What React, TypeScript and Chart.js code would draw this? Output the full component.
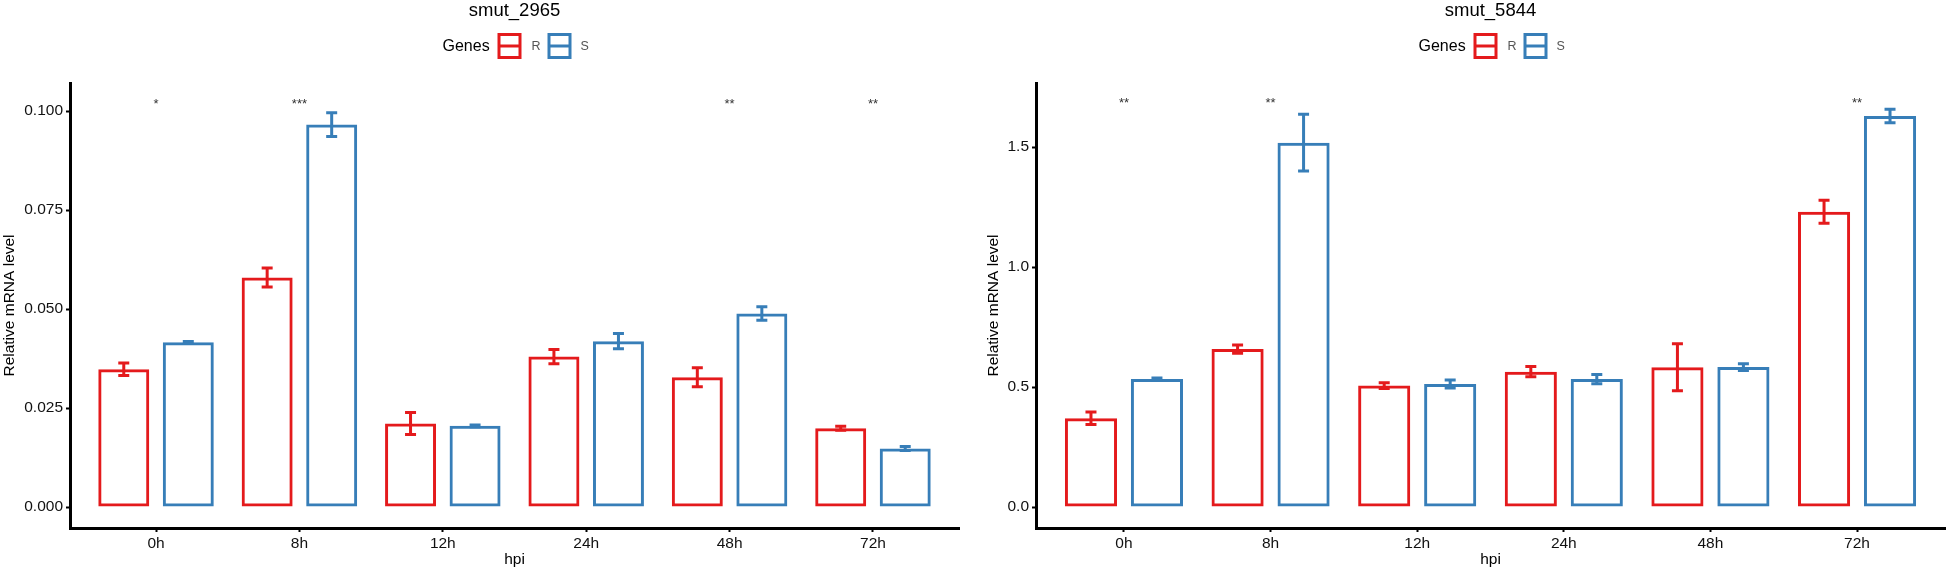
import React, { useEffect, useRef } from 'react';
import { Chart, registerables } from 'chart.js';

Chart.register(...registerables);

// ---------- data ----------
const categories = ['0h', '8h', '12h', '24h', '48h', '72h'];
const geneLabels = ['R', 'S'];
const colorR = '#E41A1C';
const colorS = '#377EB8';

// smut_2965
const leftTitle = 'smut_2965';
const leftR = [0.0348, 0.058, 0.0211, 0.038, 0.0328, 0.0199];
const leftRErr = [0.0016, 0.0024, 0.0028, 0.0018, 0.0024, 0.0005];
const leftS = [0.0416, 0.0966, 0.0205, 0.0419, 0.0489, 0.0148];
const leftSErr = [0.0002, 0.003, 0.0002, 0.0019, 0.0017, 0.0005];
const leftStars = ['*', '***', '', '', '**', '**'];
const leftStarY = 0.1028;
const leftTicks = [0, 0.025, 0.05, 0.075, 0.1];
const leftYMin = -0.0053;
const leftYMax = 0.1071;

// smut_5844
const rightTitle = 'smut_5844';
const rightR = [0.37, 0.658, 0.506, 0.564, 0.582, 1.23];
const rightRErr = [0.026, 0.017, 0.012, 0.021, 0.098, 0.048];
const rightS = [0.533, 1.518, 0.5125, 0.533, 0.583, 1.629];
const rightSErr = [0.004, 0.118, 0.017, 0.019, 0.014, 0.028];
const rightStars = ['**', '**', '', '', '', '**'];
const rightStarY = 1.696;
const rightTicks = [0, 0.5, 1.0, 1.5];
const rightYMin = -0.0875;
const rightYMax = 1.7667;

const FONT = '"Liberation Sans", Arial, Helvetica, sans-serif';

// ---------- plugin: error bars, stars, title, legend ----------
const decorPlugin = {
  id: 'decor',
  afterDatasetsDraw(chart: any) {
    const ctx = chart.ctx;
    const ys = chart.scales.y;
    const xs = chart.scales.x;
    chart.data.datasets.forEach((ds: any, di: number) => {
      const meta = chart.getDatasetMeta(di);
      meta.data.forEach((el: any, i: number) => {
        const v = ds.data[i].y;
        const e = ds.errors[i];
        const yTop = ys.getPixelForValue(v + e);
        const yBot = ys.getPixelForValue(v - e);
        ctx.save();
        ctx.strokeStyle = ds.borderColor;
        ctx.lineWidth = 3;
        ctx.beginPath();
        ctx.moveTo(el.x, yTop);
        ctx.lineTo(el.x, yBot);
        ctx.moveTo(el.x - 5.5, yTop);
        ctx.lineTo(el.x + 5.5, yTop);
        ctx.moveTo(el.x - 5.5, yBot);
        ctx.lineTo(el.x + 5.5, yBot);
        ctx.stroke();
        ctx.restore();
      });
    });
    const opts = chart.options.plugins.decor;
    ctx.save();
    ctx.fillStyle = '#333';
    ctx.font = `13px ${FONT}`;
    ctx.textAlign = 'center';
    ctx.textBaseline = 'alphabetic';
    opts.stars.forEach((s: string, i: number) => {
      if (!s) return;
      const x = xs.getPixelForValue(i);
      const y = ys.getPixelForValue(opts.starY);
      ctx.fillText(s, x, y + 7.5);
    });
    ctx.restore();
  },
  afterDraw(chart: any) {
    const ctx = chart.ctx;
    const opts = chart.options.plugins.decor;
    const ca = chart.chartArea;
    const c = (ca.left + ca.right) / 2;
    ctx.save();
    ctx.fillStyle = '#000';
    ctx.font = `18.5px ${FONT}`;
    ctx.textAlign = 'center';
    ctx.textBaseline = 'middle';
    ctx.fillText(opts.title, c, 11);
    // legend
    ctx.font = `16px ${FONT}`;
    ctx.textAlign = 'left';
    ctx.fillText('Genes', c - 72, 47);
    const keys = [
      { x: c - 17, color: colorR, label: geneLabels[0], lx: c + 17 },
      { x: c + 33, color: colorS, label: geneLabels[1], lx: c + 66 },
    ];
    keys.forEach((k) => {
      ctx.strokeStyle = k.color;
      ctx.lineWidth = 3;
      ctx.strokeRect(k.x + 1.5, 34.5, 21, 23);
      ctx.beginPath();
      ctx.moveTo(k.x + 1.5, 46);
      ctx.lineTo(k.x + 22.5, 46);
      ctx.stroke();
      ctx.fillStyle = '#555';
      ctx.font = `12.5px ${FONT}`;
      ctx.fillText(k.label, k.lx, 47);
    });
    ctx.restore();
  },
};

type Panel = {
  title: string;
  r: number[];
  rErr: number[];
  s: number[];
  sErr: number[];
  stars: string[];
  starY: number;
  ticks: number[];
  yMin: number;
  yMax: number;
  decimals: number;
  yWidth: number;
  rightPad: number;
  titlePad: number;
};

function buildConfig(p: Panel): any {
  return {
    type: 'bar',
    data: {
      datasets: [
        {
          label: geneLabels[0],
          data: categories.map((_, i) => ({ x: i, y: p.r[i] })),
          errors: p.rErr,
          borderColor: colorR,
          backgroundColor: 'rgba(255,255,255,0)',
          borderWidth: 3,
          borderSkipped: false,
          categoryPercentage: 0.9,
          barPercentage: 0.79,
        },
        {
          label: geneLabels[1],
          data: categories.map((_, i) => ({ x: i, y: p.s[i] })),
          errors: p.sErr,
          borderColor: colorS,
          backgroundColor: 'rgba(255,255,255,0)',
          borderWidth: 3,
          borderSkipped: false,
          categoryPercentage: 0.9,
          barPercentage: 0.79,
        },
      ],
    },
    options: {
      responsive: false,
      maintainAspectRatio: false,
      animation: false,
      layout: { padding: { top: 83, left: 0, right: p.rightPad, bottom: 0 } },
      plugins: {
        legend: { display: false },
        title: { display: false },
        tooltip: { enabled: false },
        decor: { title: p.title, stars: p.stars, starY: p.starY },
      },
      scales: {
        x: {
          type: 'linear',
          offset: false,
          min: -0.6,
          max: 5.6,
          afterBuildTicks: (axis: any) => {
            axis.ticks = categories.map((_, i) => ({ value: i }));
          },
          afterFit: (scale: any) => {
            scale.height = 43;
          },
          grid: {
            display: true,
            offset: false,
            drawOnChartArea: false,
            drawTicks: true,
            tickLength: 4,
            tickWidth: 2,
            tickColor: '#000',
          },
          border: { display: true, width: 3, color: '#000' },
          ticks: {
            color: '#111',
            padding: 2,
            maxRotation: 0,
            autoSkip: false,
            font: { family: FONT, size: 15.5 },
            callback: (v: number) => categories[v],
          },
          title: {
            display: true,
            text: 'hpi',
            color: '#000',
            font: { family: FONT, size: 15.5 },
            padding: { top: 0, bottom: 2 },
          },
        },
        y: {
          type: 'linear',
          min: p.yMin,
          max: p.yMax,
          afterBuildTicks: (axis: any) => {
            axis.ticks = p.ticks.map((v) => ({ value: v }));
          },
          afterFit: (scale: any) => {
            scale.width = p.yWidth;
          },
          grid: {
            display: true,
            drawOnChartArea: false,
            drawTicks: true,
            tickLength: 4,
            tickWidth: 2,
            tickColor: '#000',
          },
          border: { display: true, width: 3, color: '#000' },
          ticks: {
            color: '#111',
            padding: 3,
            font: { family: FONT, size: 15.5 },
            callback: (v: number) => Number(v).toFixed(p.decimals),
          },
          title: {
            display: true,
            text: 'Relative mRNA level',
            color: '#000',
            font: { family: FONT, size: 15.5 },
            padding: { top: p.titlePad, bottom: 0 },
          },
        },
      },
    },
    plugins: [decorPlugin],
  };
}

const leftPanel: Panel = {
  title: leftTitle,
  r: leftR,
  rErr: leftRErr,
  s: leftS,
  sErr: leftSErr,
  stars: leftStars,
  starY: leftStarY,
  ticks: leftTicks,
  yMin: leftYMin,
  yMax: leftYMax,
  decimals: 3,
  yWidth: 70,
  rightPad: 14,
  titlePad: 0,
};

const rightPanel: Panel = {
  title: rightTitle,
  r: rightR,
  rErr: rightRErr,
  s: rightS,
  sErr: rightSErr,
  stars: rightStars,
  starY: rightStarY,
  ticks: rightTicks,
  yMin: rightYMin,
  yMax: rightYMax,
  decimals: 1,
  yWidth: 56,
  rightPad: 1,
  titlePad: 4.7,
};

function ChartPanel({ panel, left, width }: { panel: Panel; left: number; width: number }) {
  const ref = useRef<HTMLCanvasElement>(null);
  useEffect(() => {
    if (!ref.current) return;
    const chart = new Chart(ref.current, buildConfig(panel));
    return () => chart.destroy();
  }, [panel]);
  return (
    <div style={{ position: 'absolute', left, top: 0, width, height: 571 }}>
      <canvas ref={ref} width={width} height={571} style={{ display: 'block', width, height: 571 }} />
    </div>
  );
}

export default function App() {
  return (
    <div
      style={{
        position: 'absolute',
        left: 0,
        top: 0,
        width: 1946,
        height: 571,
        background: '#fff',
        overflow: 'hidden',
      }}
    >
      <ChartPanel panel={leftPanel} left={0} width={973} />
      <ChartPanel panel={rightPanel} left={980} width={966} />
    </div>
  );
}
